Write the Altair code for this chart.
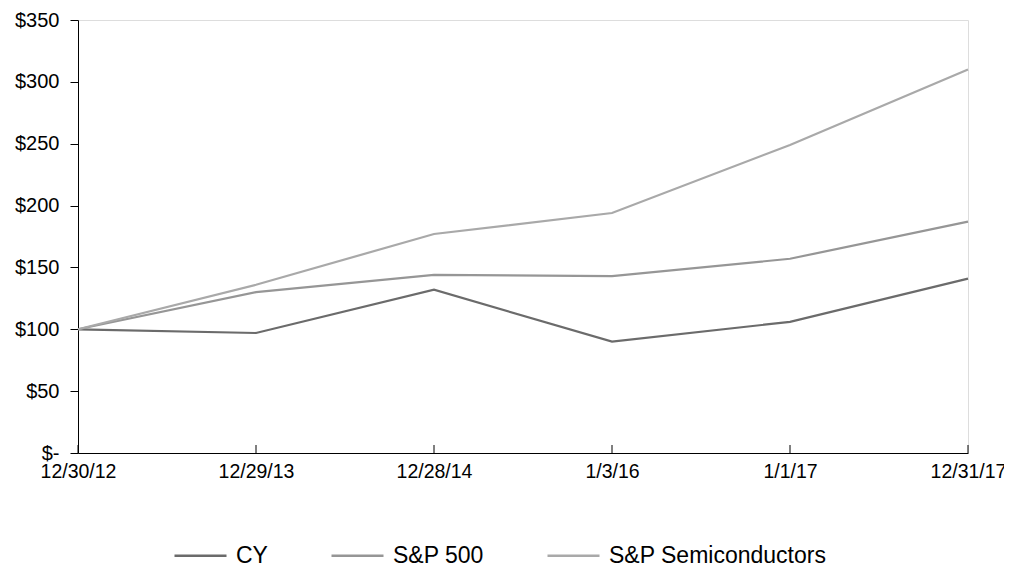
import altair as alt
import pandas as pd

dates = ["12/30/12", "12/29/13", "12/28/14", "1/3/16", "1/1/17", "12/31/17"]
cy = [100, 97, 132, 90, 106, 141]
sp500 = [100, 130, 144, 143, 157, 187]
semis = [100, 136, 177, 194, 249, 310]
series_names = ["CY", "S&P 500", "S&P Semiconductors"]
series_colors = ["#6b6b6b", "#969696", "#a9a9a9"]

rows = []
for name, vals in zip(series_names, [cy, sp500, semis]):
    for d, v in zip(dates, vals):
        rows.append({"date": d, "value": v, "series": name})
df = pd.DataFrame(rows)
ticks_df = pd.DataFrame({"date": dates})

FONT = "Liberation Sans"
W, H = 890, 433

x_enc = alt.X("date:O", sort=dates, scale=alt.Scale(type="point", padding=0),
              axis=alt.Axis(title=None, labelAngle=0, ticks=False, labelPadding=9,
                            domainColor="black", labelColor="black",
                            labelFont=FONT, labelFontSize=19.5))

lines = alt.Chart(df).mark_line(strokeWidth=2.2).encode(
    x=x_enc,
    y=alt.Y("value:Q", scale=alt.Scale(domain=[0, 350], nice=False),
            axis=alt.Axis(title=None, values=[0, 50, 100, 150, 200, 250, 300, 350],
                          grid=False, tickSize=8, tickColor="black", domainColor="black",
                          labelColor="black", labelFont=FONT, labelFontSize=20,
                          labelPadding=11,
                          labelExpr="datum.value == 0 ? '$-' : '$' + datum.value")),
    color=alt.Color("series:N", sort=series_names,
                    scale=alt.Scale(domain=series_names, range=series_colors),
                    legend=alt.Legend(title=None, orient="none", direction="horizontal",
                                      legendX=95, legendY=508, padding=0,
                                      symbolType="stroke", symbolSize=2704,
                                      symbolStrokeWidth=2.4, labelOffset=8,
                                      columnPadding=58, labelFont=FONT, labelLimit=0,
                                      labelFontSize=23, labelColor="black")),
)

xticks = alt.Chart(ticks_df).mark_rule(color="black", strokeWidth=1).encode(
    x=alt.X("date:O", sort=dates),
    y=alt.value(H - 8),
    y2=alt.value(H),
)

chart = alt.layer(lines, xticks).properties(
    width=W, height=H,
    autosize=alt.AutoSizeParams(type="none"),
    padding={"left": 70, "top": 12, "right": 36, "bottom": 112},
).configure_view(stroke="transparent", strokeWidth=0).configure(background="white")

chart.save("out.html", embed_options={"renderer": "svg", "actions": False})
